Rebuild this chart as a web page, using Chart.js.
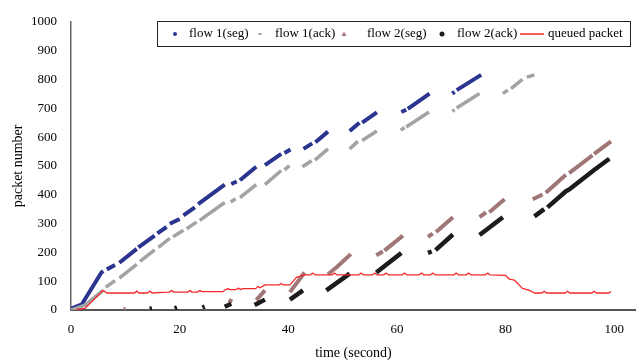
<!DOCTYPE html>
<html>
<head>
<meta charset="utf-8">
<script src="https://cdn.jsdelivr.net/npm/chart.js@4.4.1/dist/chart.umd.min.js"></script>
<style>
  body { margin: 0; background: #fff; }
  canvas { display: block; }
</style>
</head>
<body>
<canvas id="chart" width="636" height="364"></canvas>
<script>
// [time, packet number], null = gap between bursts
const flow1Seg = [
  [0, 5], [2, 20], [5.6, 130], [5.9, 136], null,
  [6.6, 141], [8.1, 156], null,
  [8.9, 164], [12.1, 212], null,
  [12.4, 217], [15.4, 258], null,
  [15.9, 266], [17.6, 288], null,
  [18.2, 299], [20.0, 316], null,
  [20.7, 328], [22.8, 356], null,
  [23.4, 367], [28.3, 435], null,
  [29.5, 437], [30.5, 446], null,
  [31.1, 450], [34.1, 497], null,
  [35.7, 503], [38.7, 542], null,
  [39.3, 545], [40.4, 557], null,
  [42.8, 559], [44.4, 578], null,
  [45.0, 582], [47.3, 619], null,
  [51.3, 621], [53.1, 650], null,
  [53.6, 650], [56.3, 686], null,
  [60.8, 687], [61.7, 695], null,
  [62.0, 698], [66.0, 751], null,
  [70.2, 751], [70.6, 757], null,
  [71.0, 763], [75.5, 816]
];
const flow1Ack = [
  [0, 0], [2.6, 17], [5.9, 68], null,
  [6.4, 79], [8.1, 102], null,
  [8.9, 111], [12.1, 158], null,
  [12.7, 169], [15.4, 209], null,
  [16.1, 217], [18.2, 249], null,
  [18.8, 254], [20.7, 277], null,
  [21.3, 282], [23.1, 305], null,
  [23.7, 311], [28.3, 373], null,
  [29.4, 375], [30.3, 386], null,
  [31.1, 390], [34.1, 435], null,
  [35.7, 435], [38.7, 484], null,
  [39.3, 486], [40.2, 501], null,
  [42.6, 497], [44.3, 518], null,
  [44.9, 520], [47.3, 559], null,
  [51.3, 559], [52.8, 585], null,
  [53.6, 588], [56.3, 621], null,
  [60.7, 624], [61.4, 633], null,
  [61.7, 635], [65.9, 687], null,
  [70.2, 689], [70.6, 695], null,
  [71.0, 701], [75.2, 751], null,
  [79.5, 751], [80.4, 763], null,
  [81.0, 768], [83.1, 800], null,
  [83.9, 808], [85.3, 816]
];
const flow2Seg = [
  [9.7, 2], [10.1, 4], null,
  [14.5, 2], [14.9, 4], null,
  [19.1, 3], [19.5, 5], null,
  [24.3, 5], [24.7, 8], null,
  [29.2, 25], [29.5, 38], null,
  [34.1, 34], [35.7, 68], null,
  [40.3, 62], [43.0, 130], null,
  [47.3, 124], [49.0, 150], [51.5, 194], null,
  [56.2, 190], [57.4, 203], null,
  [57.7, 206], [61.1, 258], null,
  [65.7, 254], [66.6, 265], null,
  [67.2, 271], [70.3, 322], null,
  [75.2, 322], [76.4, 339], null,
  [77.0, 339], [79.8, 384], null,
  [85.0, 384], [86.8, 401], null,
  [87.4, 407], [91.1, 469], null,
  [91.7, 475], [96.0, 537], null,
  [96.3, 542], [99.4, 585]
];
const flow2Ack = [
  [14.5, 4], [14.9, 6], null,
  [19.1, 6], [19.5, 9], null,
  [24.2, 9], [24.6, 12], null,
  [28.3, 11], [29.5, 22], null,
  [33.8, 17], [35.7, 36], null,
  [40.3, 36], [42.7, 68], null,
  [47.0, 68], [51.3, 126], null,
  [56.2, 130], [60.8, 198], null,
  [65.7, 198], [66.4, 203], null,
  [67.1, 208], [70.3, 262], null,
  [75.2, 260], [79.5, 322], null,
  [85.3, 325], [87.1, 350], null,
  [87.7, 356], [91.1, 412], [91.7, 418], [96.3, 486], [96.6, 490], [99.1, 525]
];
const queued = [
  [1.0, 2], [2.6, 6], [5.9, 68], [6.6, 59], [11.7, 59], [12.1, 66], [12.5, 59],
  [14.1, 59], [14.5, 66], [14.9, 59], [17.0, 61], [18.1, 62], [18.5, 68], [18.9, 62],
  [21.5, 62], [21.9, 68], [22.3, 62], [23.3, 62], [23.7, 68], [24.1, 64],
  [28.0, 64], [28.5, 71], [28.9, 74], [29.3, 71], [30.4, 71], [30.8, 76], [31.2, 71],
  [31.6, 74], [34.0, 74], [34.4, 82], [34.8, 77], [35.7, 87], [38.3, 87], [38.7, 92],
  [39.1, 87], [40.3, 87], [41.5, 113], [43.0, 122], [44.1, 122], [44.5, 128], [44.9, 122],
  [48.1, 122], [48.5, 128], [48.9, 122], [53.0, 122], [53.4, 128], [53.8, 122],
  [55.5, 122], [55.9, 128], [56.3, 122], [57.6, 122], [58.0, 128], [58.4, 122],
  [61.0, 122], [61.4, 128], [61.8, 122], [64.1, 122], [64.5, 128], [64.9, 122],
  [66.2, 122], [66.6, 128], [67.0, 122], [70.5, 122], [70.9, 128], [71.3, 122],
  [72.8, 122], [73.2, 128], [73.6, 122], [76.3, 122], [76.7, 128], [77.1, 122],
  [80.0, 120], [80.7, 107], [81.6, 104], [83.1, 75], [84.4, 68], [85.3, 59],
  [86.7, 59], [87.1, 65], [87.5, 59], [91.0, 59], [91.4, 65], [91.8, 59],
  [95.9, 59], [96.3, 65], [96.7, 59], [99.0, 59], [99.4, 64]
];
const xTicks = [0, 20, 40, 60, 80, 100];

const serif = '"Liberation Serif", "Times New Roman", serif';

function toPoints(list) {
  let pts = [];
  let lastX = 0;
  for (let p of list) {
    if (p === null) {
      pts.push({x: lastX, y: null});
    } else {
      pts.push({x: p[0], y: p[1]});
      lastX = p[0];
    }
  }
  return pts;
}

function series(label, list, color, width, order, marker) {
  return {
    label: label,
    data: toPoints(list),
    borderColor: color,
    backgroundColor: color,
    borderWidth: width,
    borderCapStyle: 'butt',
    borderJoinStyle: 'round',
    pointRadius: 0,
    spanGaps: false,
    tension: 0,
    order: order,
    marker: marker
  };
}

// legend drawn in a framed box like the original
const boxLegend = {
  id: 'boxLegend',
  afterDraw(chart) {
    let ctx = chart.ctx;
    ctx.save();
    ctx.fillStyle = '#fff';
    ctx.fillRect(157.5, 21.5, 473, 25);
    ctx.strokeStyle = '#222';
    ctx.lineWidth = 1;
    ctx.strokeRect(157.5, 21.5, 473, 25);
    let y = 34;
    let markX = [175, 260, 344, 442, 520];
    let textX = [189, 275, 367, 457, 548];
    ctx.font = '13px ' + serif;
    ctx.textBaseline = 'middle';
    ctx.textAlign = 'left';
    chart.data.datasets.forEach((ds, i) => {
      let mx = markX[i];
      ctx.fillStyle = ds.borderColor;
      ctx.strokeStyle = ds.borderColor;
      if (ds.marker === 'dot') {
        ctx.beginPath();
        ctx.arc(mx, y, 2, 0, Math.PI * 2);
        ctx.fill();
      } else if (ds.marker === 'dash') {
        ctx.fillRect(mx - 1.5, y - 1, 3, 2);
      } else if (ds.marker === 'tri') {
        ctx.beginPath();
        ctx.moveTo(mx, y - 2.5);
        ctx.lineTo(mx + 2.5, y + 2);
        ctx.lineTo(mx - 2.5, y + 2);
        ctx.closePath();
        ctx.fill();
      } else if (ds.marker === 'bigdot') {
        ctx.beginPath();
        ctx.arc(mx, y, 2.5, 0, Math.PI * 2);
        ctx.fill();
      } else {
        ctx.lineWidth = 1.5;
        ctx.beginPath();
        ctx.moveTo(mx, y);
        ctx.lineTo(mx + 24, y);
        ctx.stroke();
      }
      ctx.fillStyle = '#000';
      ctx.fillText(ds.label, textX[i], y);
    });
    ctx.restore();
  }
};

new Chart(document.getElementById('chart'), {
  type: 'line',
  data: {
    datasets: [
      series('flow 1(seg)', flow1Seg, '#2B3590', 4, 5, 'dot'),
      series('flow 1(ack)', flow1Ack, '#A3A3A3', 3.5, 4, 'dash'),
      series('flow 2(seg)', flow2Seg, '#A07676', 4, 3, 'tri'),
      series('flow 2(ack)', flow2Ack, '#1C1C1C', 4.5, 2, 'bigdot'),
      series('queued packet', queued, '#F42828', 1.3, 1, 'line')
    ]
  },
  options: {
    responsive: false,
    animation: false,
    layout: {padding: {top: 15, right: 0, bottom: 0, left: 0}},
    plugins: {
      legend: {display: false},
      tooltip: {enabled: false}
    },
    scales: {
      x: {
        type: 'linear',
        min: 0,
        max: 104,
        grid: {display: false, drawTicks: false},
        border: {display: true, color: '#555', width: 2},
        ticks: {stepSize: 20, padding: 12, color: '#000', font: {family: serif, size: 13}},
        afterBuildTicks(scale) {
          scale.ticks = xTicks.map(v => ({value: v}));
        },
        afterFit(scale) {
          scale.height = 54;
        },
        title: {display: true, text: 'time (second)', color: '#000',
          font: {family: serif, size: 14}, padding: {top: 0, bottom: 2}}
      },
      y: {
        min: 0,
        max: 1000,
        grid: {display: false, drawTicks: false},
        border: {display: true, color: '#666', width: 1.5},
        ticks: {stepSize: 100, padding: 14, color: '#000', font: {family: serif, size: 13},
          callback: v => String(v)},
        afterFit(scale) {
          scale.width = 71;
        },
        title: {display: true, text: 'packet number', color: '#000',
          font: {family: serif, size: 14}, padding: {top: 10, bottom: 0}}
      }
    }
  },
  plugins: [boxLegend]
});
</script>
</body>
</html>
